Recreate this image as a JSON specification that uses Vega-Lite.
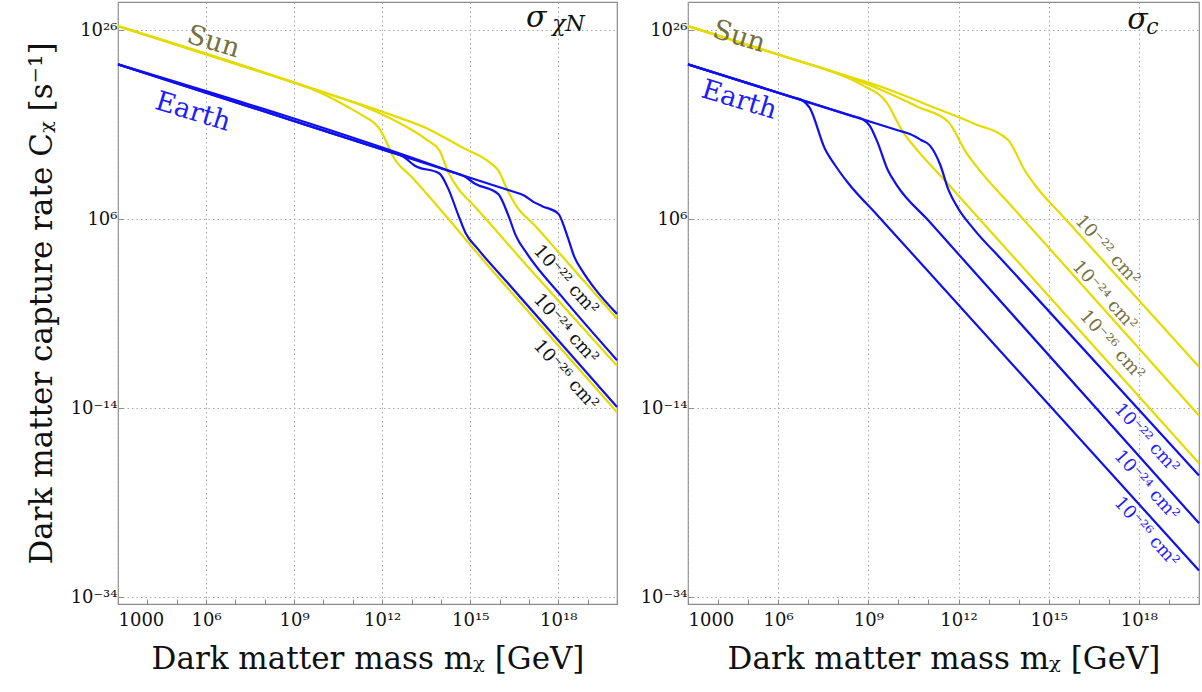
{
  "$schema": "https://vega.github.io/schema/vega-lite/v6.json",
  "background": "white",
  "padding": {"left": 25, "top": 1, "right": 2, "bottom": 4},
  "config": {
    "font": "DejaVu Serif",
    "view": {"stroke": "#8c8c8c", "strokeWidth": 1.2},
    "axis": {
      "domain": false,
      "labelFont": "DejaVu Serif",
      "labelFontSize": 18,
      "labelColor": "#111",
      "titleFont": "DejaVu Serif",
      "titleFontSize": 31,
      "titleFontWeight": "normal",
      "titleColor": "#111",
      "gridColor": "#a8a8a8",
      "gridDash": [1.5, 3],
      "gridWidth": 1,
      "tickColor": "#8c8c8c",
      "labelOverlap": false
    },
    "concat": {"spacing": 17}
  },
  "datasets": {
    "curves": [
      {"panel": "N", "body": "Sun", "xs": "22", "m": 1e3, "C": 2.818e26},
      {"panel": "N", "body": "Sun", "xs": "22", "m": 1e9, "C": 2.818e20},
      {"panel": "N", "body": "Sun", "xs": "22", "m": 1.995e11, "C": 1.413e18},
      {"panel": "N", "body": "Sun", "xs": "22", "m": 2.512e12, "C": 8.913e16},
      {"panel": "N", "body": "Sun", "xs": "22", "m": 3.548e13, "C": 3.981e15},
      {"panel": "N", "body": "Sun", "xs": "22", "m": 5.012e14, "C": 4.467e13},
      {"panel": "N", "body": "Sun", "xs": "22", "m": 4.467e15, "C": 1.122e12},
      {"panel": "N", "body": "Sun", "xs": "22", "m": 8.913e15, "C": 1.585e11},
      {"panel": "N", "body": "Sun", "xs": "22", "m": 1.995e16, "C": 7.943e8},
      {"panel": "N", "body": "Sun", "xs": "22", "m": 3.548e16, "C": 3.162e7},
      {"panel": "N", "body": "Sun", "xs": "22", "m": 1.585e17, "C": 2.239e5},
      {"panel": "N", "body": "Sun", "xs": "22", "m": 1.259e18, "C": 158.5},
      {"panel": "N", "body": "Sun", "xs": "22", "m": 1e20, "C": 3.162e-5},

      {"panel": "N", "body": "Sun", "xs": "24", "m": 1e3, "C": 2.818e26},
      {"panel": "N", "body": "Sun", "xs": "24", "m": 1e10, "C": 2.818e19},
      {"panel": "N", "body": "Sun", "xs": "24", "m": 1.995e11, "C": 1.122e18},
      {"panel": "N", "body": "Sun", "xs": "24", "m": 2.512e12, "C": 3.162e16},
      {"panel": "N", "body": "Sun", "xs": "24", "m": 3.548e13, "C": 2.239e14},
      {"panel": "N", "body": "Sun", "xs": "24", "m": 8.913e13, "C": 1.995e13},
      {"panel": "N", "body": "Sun", "xs": "24", "m": 1.778e14, "C": 1e11},
      {"panel": "N", "body": "Sun", "xs": "24", "m": 3.981e14, "C": 1.585e9},
      {"panel": "N", "body": "Sun", "xs": "24", "m": 1.122e15, "C": 5.012e7},
      {"panel": "N", "body": "Sun", "xs": "24", "m": 1e17, "C": 7.079},
      {"panel": "N", "body": "Sun", "xs": "24", "m": 1e20, "C": 3.162e-10},

      {"panel": "N", "body": "Sun", "xs": "26", "m": 1e3, "C": 2.818e26},
      {"panel": "N", "body": "Sun", "xs": "26", "m": 1e9, "C": 2.818e20},
      {"panel": "N", "body": "Sun", "xs": "26", "m": 3.981e9, "C": 6.310e19},
      {"panel": "N", "body": "Sun", "xs": "26", "m": 1.585e10, "C": 8.913e18},
      {"panel": "N", "body": "Sun", "xs": "26", "m": 6.310e10, "C": 8.913e17},
      {"panel": "N", "body": "Sun", "xs": "26", "m": 1.995e11, "C": 1.122e17},
      {"panel": "N", "body": "Sun", "xs": "26", "m": 7.943e11, "C": 3.981e15},
      {"panel": "N", "body": "Sun", "xs": "26", "m": 1e12, "C": 1.259e15},
      {"panel": "N", "body": "Sun", "xs": "26", "m": 2.512e12, "C": 3.162e12},
      {"panel": "N", "body": "Sun", "xs": "26", "m": 1e13, "C": 3.162e10},
      {"panel": "N", "body": "Sun", "xs": "26", "m": 6.310e15, "C": 2.512},
      {"panel": "N", "body": "Sun", "xs": "26", "m": 1e20, "C": 3.981e-15},

      {"panel": "N", "body": "Earth", "xs": "26", "m": 1e3, "C": 2.512e22},
      {"panel": "N", "body": "Earth", "xs": "26", "m": 1.995e12, "C": 1.259e13},
      {"panel": "N", "body": "Earth", "xs": "26", "m": 4.467e12, "C": 5.623e12},
      {"panel": "N", "body": "Earth", "xs": "26", "m": 6.310e12, "C": 2.818e12},
      {"panel": "N", "body": "Earth", "xs": "26", "m": 1.259e13, "C": 5.012e11},
      {"panel": "N", "body": "Earth", "xs": "26", "m": 8.913e13, "C": 7.079e10},
      {"panel": "N", "body": "Earth", "xs": "26", "m": 1.778e14, "C": 1.778e9},
      {"panel": "N", "body": "Earth", "xs": "26", "m": 3.981e14, "C": 2.512e6},
      {"panel": "N", "body": "Earth", "xs": "26", "m": 7.079e14, "C": 3.162e4},
      {"panel": "N", "body": "Earth", "xs": "26", "m": 1.778e15, "C": 794.3},
      {"panel": "N", "body": "Earth", "xs": "26", "m": 1.778e16, "C": 0.2344},
      {"panel": "N", "body": "Earth", "xs": "26", "m": 1e20, "C": 1.413e-14},

      {"panel": "N", "body": "Earth", "xs": "24", "m": 1e3, "C": 2.512e22},
      {"panel": "N", "body": "Earth", "xs": "24", "m": 2.512e14, "C": 1e11},
      {"panel": "N", "body": "Earth", "xs": "24", "m": 6.310e14, "C": 3.548e10},
      {"panel": "N", "body": "Earth", "xs": "24", "m": 1.413e15, "C": 6.310e9},
      {"panel": "N", "body": "Earth", "xs": "24", "m": 8.913e15, "C": 5.012e8},
      {"panel": "N", "body": "Earth", "xs": "24", "m": 1.995e16, "C": 2.512e6},
      {"panel": "N", "body": "Earth", "xs": "24", "m": 3.548e16, "C": 1.995e4},
      {"panel": "N", "body": "Earth", "xs": "24", "m": 8.913e16, "C": 199.5},
      {"panel": "N", "body": "Earth", "xs": "24", "m": 1.259e18, "C": 7.943e-3},
      {"panel": "N", "body": "Earth", "xs": "24", "m": 1e20, "C": 1.259e-9},

      {"panel": "N", "body": "Earth", "xs": "22", "m": 1e3, "C": 2.512e22},
      {"panel": "N", "body": "Earth", "xs": "22", "m": 1e16, "C": 2.512e9},
      {"panel": "N", "body": "Earth", "xs": "22", "m": 2.512e16, "C": 1e9},
      {"panel": "N", "body": "Earth", "xs": "22", "m": 7.079e16, "C": 3.162e8},
      {"panel": "N", "body": "Earth", "xs": "22", "m": 1.413e17, "C": 7.079e7},
      {"panel": "N", "body": "Earth", "xs": "22", "m": 2.818e17, "C": 2.512e7},
      {"panel": "N", "body": "Earth", "xs": "22", "m": 1e18, "C": 3.981e6},
      {"panel": "N", "body": "Earth", "xs": "22", "m": 1.995e18, "C": 1.995e4},
      {"panel": "N", "body": "Earth", "xs": "22", "m": 3.548e18, "C": 100},
      {"panel": "N", "body": "Earth", "xs": "22", "m": 7.079e18, "C": 2.512},
      {"panel": "N", "body": "Earth", "xs": "22", "m": 1.778e19, "C": 4.467e-2},
      {"panel": "N", "body": "Earth", "xs": "22", "m": 1e20, "C": 1e-4},

      {"panel": "c", "body": "Sun", "xs": "22", "m": 1e3, "C": 2.818e26},
      {"panel": "c", "body": "Sun", "xs": "22", "m": 1e8, "C": 2.818e21},
      {"panel": "c", "body": "Sun", "xs": "22", "m": 2.512e9, "C": 1.122e20},
      {"panel": "c", "body": "Sun", "xs": "22", "m": 1.778e11, "C": 5.623e17},
      {"panel": "c", "body": "Sun", "xs": "22", "m": 3.162e12, "C": 1.413e16},
      {"panel": "c", "body": "Sun", "xs": "22", "m": 4.467e13, "C": 2.512e14},
      {"panel": "c", "body": "Sun", "xs": "22", "m": 1.585e14, "C": 1.585e11},
      {"panel": "c", "body": "Sun", "xs": "22", "m": 3.981e14, "C": 2.512e9},
      {"panel": "c", "body": "Sun", "xs": "22", "m": 3.162e15, "C": 1.698e6},
      {"panel": "c", "body": "Sun", "xs": "22", "m": 1e20, "C": 2.512e-10},

      {"panel": "c", "body": "Sun", "xs": "24", "m": 1e3, "C": 2.818e26},
      {"panel": "c", "body": "Sun", "xs": "24", "m": 3.162e6, "C": 8.913e22},
      {"panel": "c", "body": "Sun", "xs": "24", "m": 1e8, "C": 2.818e21},
      {"panel": "c", "body": "Sun", "xs": "24", "m": 2.512e9, "C": 5.623e19},
      {"panel": "c", "body": "Sun", "xs": "24", "m": 4.467e10, "C": 7.943e17},
      {"panel": "c", "body": "Sun", "xs": "24", "m": 4.467e11, "C": 2.239e16},
      {"panel": "c", "body": "Sun", "xs": "24", "m": 1.778e12, "C": 1.259e13},
      {"panel": "c", "body": "Sun", "xs": "24", "m": 5.623e12, "C": 1e11},
      {"panel": "c", "body": "Sun", "xs": "24", "m": 5.623e13, "C": 2.818e7},
      {"panel": "c", "body": "Sun", "xs": "24", "m": 1e20, "C": 1.778e-15},

      {"panel": "c", "body": "Sun", "xs": "26", "m": 1e3, "C": 2.818e26},
      {"panel": "c", "body": "Sun", "xs": "26", "m": 3.162e6, "C": 8.913e22},
      {"panel": "c", "body": "Sun", "xs": "26", "m": 3.162e7, "C": 8.913e21},
      {"panel": "c", "body": "Sun", "xs": "26", "m": 6.310e8, "C": 1.585e20},
      {"panel": "c", "body": "Sun", "xs": "26", "m": 3.981e9, "C": 2.512e18},
      {"panel": "c", "body": "Sun", "xs": "26", "m": 1.413e10, "C": 1.778e15},
      {"panel": "c", "body": "Sun", "xs": "26", "m": 3.162e10, "C": 6.310e13},
      {"panel": "c", "body": "Sun", "xs": "26", "m": 3.162e11, "C": 1.820e10},
      {"panel": "c", "body": "Sun", "xs": "26", "m": 1e20, "C": 1.585e-20},

      {"panel": "c", "body": "Earth", "xs": "26", "m": 1e3, "C": 2.512e22},
      {"panel": "c", "body": "Earth", "xs": "26", "m": 3.162e6, "C": 7.943e18},
      {"panel": "c", "body": "Earth", "xs": "26", "m": 6.310e6, "C": 3.981e18},
      {"panel": "c", "body": "Earth", "xs": "26", "m": 1.122e7, "C": 6.310e17},
      {"panel": "c", "body": "Earth", "xs": "26", "m": 3.548e7, "C": 3.162e13},
      {"panel": "c", "body": "Earth", "xs": "26", "m": 7.943e7, "C": 5.012e11},
      {"panel": "c", "body": "Earth", "xs": "26", "m": 1.995e8, "C": 8.913e9},
      {"panel": "c", "body": "Earth", "xs": "26", "m": 1.995e9, "C": 2.754e6},
      {"panel": "c", "body": "Earth", "xs": "26", "m": 1e20, "C": 7.079e-32},

      {"panel": "c", "body": "Earth", "xs": "24", "m": 1e3, "C": 2.512e22},
      {"panel": "c", "body": "Earth", "xs": "24", "m": 3.162e8, "C": 7.943e16},
      {"panel": "c", "body": "Earth", "xs": "24", "m": 6.310e8, "C": 3.981e16},
      {"panel": "c", "body": "Earth", "xs": "24", "m": 1.122e9, "C": 7.943e15},
      {"panel": "c", "body": "Earth", "xs": "24", "m": 1.995e9, "C": 1.585e14},
      {"panel": "c", "body": "Earth", "xs": "24", "m": 4.467e9, "C": 1.585e11},
      {"panel": "c", "body": "Earth", "xs": "24", "m": 8.913e9, "C": 3.981e9},
      {"panel": "c", "body": "Earth", "xs": "24", "m": 1e11, "C": 7.413e5},
      {"panel": "c", "body": "Earth", "xs": "24", "m": 1e20, "C": 7.079e-27},

      {"panel": "c", "body": "Earth", "xs": "22", "m": 1e3, "C": 2.512e22},
      {"panel": "c", "body": "Earth", "xs": "22", "m": 1e10, "C": 2.512e15},
      {"panel": "c", "body": "Earth", "xs": "22", "m": 2.512e10, "C": 1e15},
      {"panel": "c", "body": "Earth", "xs": "22", "m": 5.623e10, "C": 2.512e14},
      {"panel": "c", "body": "Earth", "xs": "22", "m": 1.122e11, "C": 6.310e13},
      {"panel": "c", "body": "Earth", "xs": "22", "m": 2.512e11, "C": 5.012e11},
      {"panel": "c", "body": "Earth", "xs": "22", "m": 4.467e11, "C": 1.778e9},
      {"panel": "c", "body": "Earth", "xs": "22", "m": 1e12, "C": 1.259e7},
      {"panel": "c", "body": "Earth", "xs": "22", "m": 3.162e12, "C": 1e5},
      {"panel": "c", "body": "Earth", "xs": "22", "m": 3.162e13, "C": 33.11},
      {"panel": "c", "body": "Earth", "xs": "22", "m": 1e20, "C": 7.943e-22}
    ],
    "labels": [
      {"panel": "N", "role": "name", "body": "Sun", "text": "Sun", "m": 1.778e6, "C": 5.623e24},
      {"panel": "N", "role": "name", "body": "Earth", "text": "Earth", "m": 3.548e5, "C": 2.239e17},
      {"panel": "N", "role": "xs", "body": "both", "text": "10⁻²² cm²", "m": 1.778e18, "C": 0.3548},
      {"panel": "N", "role": "xs", "body": "both", "text": "10⁻²⁴ cm²", "m": 1.778e18, "C": 2.512e-6},
      {"panel": "N", "role": "xs", "body": "both", "text": "10⁻²⁶ cm²", "m": 1.778e18, "C": 3.162e-11},
      {"panel": "N", "role": "sigma", "body": "both", "text": "σ", "m": 1.778e17, "C": 2.239e26},
      {"panel": "N", "role": "sub", "body": "both", "text": "χN", "m": 2.239e18, "C": 7.943e25},
      {"panel": "c", "role": "name", "body": "Sun", "text": "Sun", "m": 5.012e4, "C": 1.995e25},
      {"panel": "c", "role": "name", "body": "Earth", "text": "Earth", "m": 5.012e4, "C": 3.981e18},
      {"panel": "c", "role": "xs", "body": "Sun", "text": "10⁻²² cm²", "m": 8.913e16, "C": 501.2},
      {"panel": "c", "role": "xs", "body": "Sun", "text": "10⁻²⁴ cm²", "m": 7.079e16, "C": 7.943e-3},
      {"panel": "c", "role": "xs", "body": "Sun", "text": "10⁻²⁶ cm²", "m": 1.259e17, "C": 4.467e-8},
      {"panel": "c", "role": "xs", "body": "Earth", "text": "10⁻²² cm²", "m": 1.778e18, "C": 6.310e-18},
      {"panel": "c", "role": "xs", "body": "Earth", "text": "10⁻²⁴ cm²", "m": 1.778e18, "C": 7.079e-23},
      {"panel": "c", "role": "xs", "body": "Earth", "text": "10⁻²⁶ cm²", "m": 1.778e18, "C": 7.943e-28},
      {"panel": "c", "role": "sigma", "body": "both", "text": "σ", "m": 8.913e17, "C": 1.479e26},
      {"panel": "c", "role": "sub", "body": "both", "text": "c", "m": 2.818e18, "C": 3.802e25}
    ]
  },
  "hconcat": [
    {
      "width": 499,
      "height": 602,
      "layer": [
        {
          "data": {"name": "curves"},
          "transform": [{"filter": "datum.panel == 'N' && datum.body == 'Sun'"}],
          "mark": {"type": "line", "color": "#e4dc00", "strokeWidth": 2.2, "interpolate": "monotone"},
          "encoding": {
            "x": {"field": "m", "type": "quantitative", "scale": {"type": "log", "domain": [1e3, 1e20], "nice": false},
              "axis": {
                "title": "Dark matter mass mᵪ [GeV]",
                "titlePadding": 15,
                "values": [1e3, 1e4, 1e5, 1e6, 1e7, 1e8, 1e9, 1e10, 1e11, 1e12, 1e13, 1e14, 1e15, 1e16, 1e17, 1e18, 1e19, 1e20],
                "labelExpr": "round(log(datum.value)/LN10) == 3 ? '1000' : round(log(datum.value)/LN10) == 6 ? '10⁶' : round(log(datum.value)/LN10) == 9 ? '10⁹' : round(log(datum.value)/LN10) == 12 ? '10¹²' : round(log(datum.value)/LN10) == 15 ? '10¹⁵' : round(log(datum.value)/LN10) == 18 ? '10¹⁸' : ''",
                "gridOpacity": {"condition": {"test": "round(log(datum.value)/LN10) % 3 == 0 && round(log(datum.value)/LN10) < 20", "value": 1}, "value": 0},
                "tickSize": -5,
                "labelPadding": 12
              }},
            "y": {"field": "C", "type": "quantitative", "scale": {"type": "log", "domain": [2e-35, 1e29], "nice": false},
              "axis": {
                "title": "Dark matter capture rate Cᵪ [s⁻¹]",
                "titlePadding": 12,
                "values": [1e-34, 1e-14, 1e6, 1e26],
                "labelExpr": "round(log(datum.value)/LN10) == 26 ? '10²⁶' : round(log(datum.value)/LN10) == 6 ? '10⁶' : round(log(datum.value)/LN10) == -14 ? '10⁻¹⁴' : '10⁻³⁴'",
                "tickSize": -5,
                "labelPadding": 6
              }},
            "detail": {"field": "xs"}
          }
        },
        {
          "data": {"name": "curves"},
          "transform": [{"filter": "datum.panel == 'N' && datum.body == 'Earth'"}],
          "mark": {"type": "line", "color": "#1010ee", "strokeWidth": 2.2, "interpolate": "monotone"},
          "encoding": {
            "x": {"field": "m", "type": "quantitative"},
            "y": {"field": "C", "type": "quantitative"},
            "detail": {"field": "xs"}
          }
        },
        {
          "data": {"name": "labels"},
          "transform": [{"filter": "datum.panel == 'N' && datum.role == 'name'"}],
          "mark": {"type": "text", "angle": 17, "fontSize": 27, "font": "DejaVu Serif", "align": "center", "baseline": "middle"},
          "encoding": {
            "x": {"field": "m", "type": "quantitative"},
            "y": {"field": "C", "type": "quantitative"},
            "text": {"field": "text"},
            "color": {"field": "body", "type": "nominal", "scale": {"domain": ["Sun", "Earth", "both"], "range": ["#75703c", "#1e1ef5", "#111111"]}, "legend": null}
          }
        },
        {
          "data": {"name": "labels"},
          "transform": [{"filter": "datum.panel == 'N' && datum.role == 'xs'"}],
          "mark": {"type": "text", "angle": 48, "fontSize": 18, "font": "DejaVu Serif", "align": "center", "baseline": "middle"},
          "encoding": {
            "x": {"field": "m", "type": "quantitative"},
            "y": {"field": "C", "type": "quantitative"},
            "text": {"field": "text"},
            "color": {"field": "body", "type": "nominal", "legend": null}
          }
        },
        {
          "data": {"name": "labels"},
          "transform": [{"filter": "datum.panel == 'N' && datum.role == 'sigma'"}],
          "mark": {"type": "text", "fontSize": 30, "fontStyle": "italic", "font": "DejaVu Serif", "align": "center", "baseline": "alphabetic"},
          "encoding": {
            "x": {"field": "m", "type": "quantitative"},
            "y": {"field": "C", "type": "quantitative"},
            "text": {"field": "text"},
            "color": {"field": "body", "type": "nominal", "legend": null}
          }
        },
        {
          "data": {"name": "labels"},
          "transform": [{"filter": "datum.panel == 'N' && datum.role == 'sub'"}],
          "mark": {"type": "text", "fontSize": 22, "fontStyle": "italic", "font": "DejaVu Serif", "align": "center", "baseline": "alphabetic"},
          "encoding": {
            "x": {"field": "m", "type": "quantitative"},
            "y": {"field": "C", "type": "quantitative"},
            "text": {"field": "text"},
            "color": {"field": "body", "type": "nominal", "legend": null}
          }
        }
      ]
    },
    {
      "width": 511,
      "height": 602,
      "layer": [
        {
          "data": {"name": "curves"},
          "transform": [{"filter": "datum.panel == 'c' && datum.body == 'Sun'"}],
          "mark": {"type": "line", "color": "#e4dc00", "strokeWidth": 2.2, "interpolate": "monotone"},
          "encoding": {
            "x": {"field": "m", "type": "quantitative", "scale": {"type": "log", "domain": [1e3, 1e20], "nice": false},
              "axis": {
                "title": "Dark matter mass mᵪ [GeV]",
                "titlePadding": 15,
                "values": [1e3, 1e4, 1e5, 1e6, 1e7, 1e8, 1e9, 1e10, 1e11, 1e12, 1e13, 1e14, 1e15, 1e16, 1e17, 1e18, 1e19, 1e20],
                "labelExpr": "round(log(datum.value)/LN10) == 3 ? '1000' : round(log(datum.value)/LN10) == 6 ? '10⁶' : round(log(datum.value)/LN10) == 9 ? '10⁹' : round(log(datum.value)/LN10) == 12 ? '10¹²' : round(log(datum.value)/LN10) == 15 ? '10¹⁵' : round(log(datum.value)/LN10) == 18 ? '10¹⁸' : ''",
                "gridOpacity": {"condition": {"test": "round(log(datum.value)/LN10) % 3 == 0 && round(log(datum.value)/LN10) < 20", "value": 1}, "value": 0},
                "tickSize": -5,
                "labelPadding": 12
              }},
            "y": {"field": "C", "type": "quantitative", "scale": {"type": "log", "domain": [2e-35, 1e29], "nice": false},
              "axis": {
                "title": null,
                "values": [1e-34, 1e-14, 1e6, 1e26],
                "labelExpr": "round(log(datum.value)/LN10) == 26 ? '10²⁶' : round(log(datum.value)/LN10) == 6 ? '10⁶' : round(log(datum.value)/LN10) == -14 ? '10⁻¹⁴' : '10⁻³⁴'",
                "tickSize": -5,
                "labelPadding": 6
              }},
            "detail": {"field": "xs"}
          }
        },
        {
          "data": {"name": "curves"},
          "transform": [{"filter": "datum.panel == 'c' && datum.body == 'Earth'"}],
          "mark": {"type": "line", "color": "#1010ee", "strokeWidth": 2.2, "interpolate": "monotone"},
          "encoding": {
            "x": {"field": "m", "type": "quantitative"},
            "y": {"field": "C", "type": "quantitative"},
            "detail": {"field": "xs"}
          }
        },
        {
          "data": {"name": "labels"},
          "transform": [{"filter": "datum.panel == 'c' && datum.role == 'name'"}],
          "mark": {"type": "text", "angle": 17, "fontSize": 27, "font": "DejaVu Serif", "align": "center", "baseline": "middle"},
          "encoding": {
            "x": {"field": "m", "type": "quantitative"},
            "y": {"field": "C", "type": "quantitative"},
            "text": {"field": "text"},
            "color": {"field": "body", "type": "nominal", "scale": {"domain": ["Sun", "Earth", "both"], "range": ["#75703c", "#1e1ef5", "#111111"]}, "legend": null}
          }
        },
        {
          "data": {"name": "labels"},
          "transform": [{"filter": "datum.panel == 'c' && datum.role == 'xs'"}],
          "mark": {"type": "text", "angle": 48, "fontSize": 18, "font": "DejaVu Serif", "align": "center", "baseline": "middle"},
          "encoding": {
            "x": {"field": "m", "type": "quantitative"},
            "y": {"field": "C", "type": "quantitative"},
            "text": {"field": "text"},
            "color": {"field": "body", "type": "nominal", "legend": null}
          }
        },
        {
          "data": {"name": "labels"},
          "transform": [{"filter": "datum.panel == 'c' && datum.role == 'sigma'"}],
          "mark": {"type": "text", "fontSize": 30, "fontStyle": "italic", "font": "DejaVu Serif", "align": "center", "baseline": "alphabetic"},
          "encoding": {
            "x": {"field": "m", "type": "quantitative"},
            "y": {"field": "C", "type": "quantitative"},
            "text": {"field": "text"},
            "color": {"field": "body", "type": "nominal", "legend": null}
          }
        },
        {
          "data": {"name": "labels"},
          "transform": [{"filter": "datum.panel == 'c' && datum.role == 'sub'"}],
          "mark": {"type": "text", "fontSize": 22, "fontStyle": "italic", "font": "DejaVu Serif", "align": "center", "baseline": "alphabetic"},
          "encoding": {
            "x": {"field": "m", "type": "quantitative"},
            "y": {"field": "C", "type": "quantitative"},
            "text": {"field": "text"},
            "color": {"field": "body", "type": "nominal", "legend": null}
          }
        }
      ]
    }
  ]
}
